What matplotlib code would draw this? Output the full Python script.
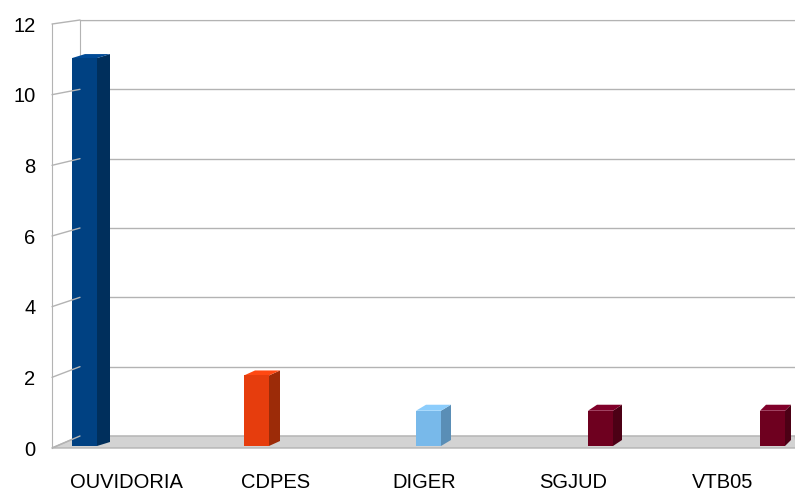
import numpy as np
import matplotlib
matplotlib.use("Agg")
import matplotlib.pyplot as plt
from matplotlib.patches import Polygon, ConnectionPatch

categories = ["OUVIDORIA", "CDPES", "DIGER", "SGJUD", "VTB05"]
values = [11, 2, 1, 1, 1]
yticks = [0, 2, 4, 6, 8, 10, 12]

front_colors = ["#004182", "#e63d0d", "#78b9ea", "#6e001f", "#6e001f"]
top_colors = ["#004a96", "#ff4812", "#8ccdfc", "#80002a", "#80002a"]
side_colors = ["#002f5c", "#9c2b08", "#5a8eb6", "#4c0015", "#4c0015"]

GRID = "#b3b3b3"
W, H = 795, 491

plt.rcParams["font.family"] = ["Liberation Sans", "DejaVu Sans"]

fig = plt.figure(figsize=(W / 100, H / 100), dpi=100)


def box(x0, y0, x1, y1):
    # pixel box (top-left origin) -> figure fraction
    return [x0 / W, 1 - y1 / H, (x1 - x0) / W, (y1 - y0) / H]


# back wall
ax_back = fig.add_axes(box(80, 20, 795, 436))
ax_back.set_ylim(0, 12)
ax_back.set_xlim(0, 1)
ax_back.set_yticks(yticks)
ax_back.set_xticks([])
ax_back.tick_params(left=False, labelleft=False)
ax_back.grid(axis="y", color=GRID, lw=1)
for s in ["right", "bottom"]:
    ax_back.spines[s].set_visible(False)
for s in ["left", "top"]:
    ax_back.spines[s].set_color(GRID)

# front plane: labels, floor, front edge
ax_front = fig.add_axes(box(52, 24, 797, 448))
ax_front.patch.set_visible(False)
ax_front.set_ylim(0, 12)
ax_front.set_xlim(-0.5, len(categories) - 0.5)
ax_front.set_yticks(yticks)
ax_front.set_yticklabels([str(t) for t in yticks], fontsize=14.5)
ax_front.set_xticks(range(len(categories)))
ax_front.set_xticklabels(categories, fontsize=14.5)
ax_front.tick_params(length=0)
ax_front.tick_params(axis="y", pad=12)
ax_front.tick_params(axis="x", pad=18)
for s in ["right", "bottom", "top"]:
    ax_front.spines[s].set_visible(False)
ax_front.spines["left"].set_color(GRID)

# slanted ticks joining the front edge to the back wall
for t in yticks:
    con = ConnectionPatch(xyA=(0, t), coordsA=ax_front.get_yaxis_transform(),
                          xyB=(0, t), coordsB=ax_back.get_yaxis_transform(),
                          color=GRID, lw=1)
    fig.add_artist(con)

# floor
inv = ax_front.transData.inverted()
back_l = inv.transform(ax_back.transAxes.transform((0, 0)))
back_r = inv.transform(ax_back.transAxes.transform((1, 0)))
floor = Polygon([(-0.5, 0), (len(categories) - 0.5, 0), back_r, back_l],
                closed=True, facecolor="#d3d3d3", edgecolor=GRID, lw=1,
                clip_on=False)
ax_front.add_patch(floor)

# bars
ax_bar = fig.add_axes(box(-1.5, 22.8, 858.5, 446))
ax_bar.set_xlim(-0.5, len(categories) - 0.5)
ax_bar.set_ylim(0, 12)
ax_bar.axis("off")

x = np.arange(len(categories))
width = 25 / 172
ax_bar.bar(x, values, width=width, color=front_colors, lw=0, zorder=3)

depth_x = [13, 11, 10, 9, 6]
depth_y = [4, 5, 6, 6, 6]


def shifted(ax, px, py, dx, dy):
    d = ax.transData.transform((px, py)) + np.array([dx, dy])
    return ax.transData.inverted().transform(d)


for i, v in enumerate(values):
    x0, x1 = x[i] - width / 2, x[i] + width / 2
    dx, dy = depth_x[i], depth_y[i]
    side = [(x1, 0), (x1, v), shifted(ax_bar, x1, v, dx, dy), shifted(ax_bar, x1, 0, dx, dy)]
    top = [(x0, v), (x1, v), shifted(ax_bar, x1, v, dx, dy), shifted(ax_bar, x0, v, dx, dy)]
    ax_bar.add_patch(Polygon(side, closed=True, facecolor=side_colors[i], lw=0,
                             zorder=2, clip_on=False))
    ax_bar.add_patch(Polygon(top, closed=True, facecolor=top_colors[i], lw=0,
                             zorder=2, clip_on=False))

fig.savefig("out.png", dpi=100)
